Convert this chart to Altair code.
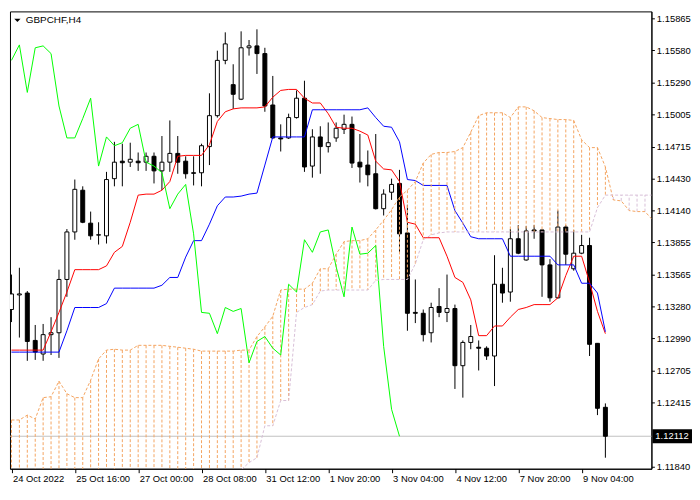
import altair as alt
import pandas as pd

symbol_title = "GBPCHF,H4"
tick_bars = [0, 8, 16, 24, 32, 40, 48, 56, 64, 72]
tick_labels = ["24 Oct 2022", "25 Oct 16:00", "27 Oct 00:00", "28 Oct 08:00", "31 Oct 12:00",
               "1 Nov 20:00", "3 Nov 04:00", "4 Nov 12:00", "7 Nov 20:00", "9 Nov 04:00"]
price_ticks = [1.15865, 1.15580, 1.15290, 1.15005, 1.14715, 1.14430, 1.14140, 1.13855,
               1.13565, 1.13280, 1.12990, 1.12705, 1.12415, 1.11840]
last_price = 1.12112

open_ = [1.13251, 1.13382, 1.13399, 1.12973, 1.12851, 1.13025, 1.13042, 1.13521, 1.13948, 1.14323,
         1.14027, 1.13922, 1.13913, 1.14427, 1.14584, 1.14575, 1.14584, 1.14575, 1.14628, 1.14497,
         1.14575, 1.14654, 1.14584, 1.14480, 1.14480, 1.14715, 1.14993, 1.15490, 1.15272, 1.15141,
         1.15603, 1.15620, 1.15551, 1.15089, 1.14793, 1.14793, 1.14976, 1.15150, 1.14540, 1.14802,
         1.14715, 1.14793, 1.14871, 1.14915, 1.14575, 1.14549, 1.14471, 1.14157, 1.14305, 1.14384,
         1.13939, 1.13225, 1.13217, 1.13042, 1.13278, 1.13225, 1.13260, 1.12746, 1.12955, 1.12912,
         1.12903, 1.12833, 1.13478, 1.13408, 1.13887, 1.13696, 1.13966, 1.13966, 1.13652, 1.13356,
         1.13992, 1.13617, 1.13757, 1.13826, 1.12947, 1.12372]
high_ = [1.13565, 1.13626, 1.13417, 1.13112, 1.13121, 1.13182, 1.13609, 1.13974, 1.14419, 1.14358,
         1.14131, 1.14035, 1.14488, 1.14758, 1.14741, 1.14750, 1.14662, 1.14662, 1.14662, 1.14810,
         1.14950, 1.14810, 1.14628, 1.14628, 1.14741, 1.15194, 1.15577, 1.15742, 1.15455, 1.15751,
         1.15673, 1.15769, 1.15603, 1.15350, 1.14915, 1.15011, 1.15220, 1.15307, 1.14871, 1.14898,
         1.14932, 1.14932, 1.15002, 1.14985, 1.14828, 1.14680, 1.14828, 1.14331, 1.14427, 1.14506,
         1.14192, 1.13521, 1.13251, 1.13312, 1.13443, 1.13565, 1.13295, 1.12973, 1.13112, 1.12973,
         1.12920, 1.13739, 1.13626, 1.13974, 1.14009, 1.14000, 1.14009, 1.13970, 1.13704, 1.14140,
         1.14009, 1.13966, 1.13922, 1.13896, 1.12950, 1.12407]
low_ = [1.13138, 1.12999, 1.12790, 1.12798, 1.12790, 1.12842, 1.12816, 1.13365, 1.13878, 1.14027,
        1.13878, 1.13835, 1.13844, 1.14358, 1.14358, 1.14532, 1.14497, 1.14497, 1.14384, 1.14323,
        1.14488, 1.14471, 1.14427, 1.14366, 1.14358, 1.14549, 1.14976, 1.15455, 1.15054, 1.15133,
        1.15533, 1.15368, 1.15028, 1.14784, 1.14671, 1.14784, 1.14967, 1.14488, 1.14436, 1.14471,
        1.14662, 1.14758, 1.14828, 1.14523, 1.14392, 1.14358, 1.14150, 1.14096, 1.14236, 1.13765,
        1.13060, 1.13129, 1.12964, 1.12955, 1.13182, 1.13138, 1.12537, 1.12459, 1.12894, 1.12703,
        1.12798, 1.12563, 1.13312, 1.13321, 1.13748, 1.13690, 1.13887, 1.13365, 1.13321, 1.13350,
        1.13652, 1.13600, 1.13748, 1.12833, 1.12302, 1.11919]
close_ = [1.13391, 1.13391, 1.12964, 1.12868, 1.13025, 1.13042, 1.13521, 1.13948, 1.14331, 1.14035,
          1.13913, 1.13920, 1.14419, 1.14575, 1.14570, 1.14601, 1.14570, 1.14628, 1.14497, 1.14575,
          1.14654, 1.14575, 1.14471, 1.14475, 1.14723, 1.14993, 1.15490, 1.15638, 1.15185, 1.15603,
          1.15620, 1.15551, 1.15080, 1.14793, 1.14784, 1.14976, 1.15150, 1.14532, 1.14802, 1.14715,
          1.14750, 1.14880, 1.14915, 1.14567, 1.14532, 1.14462, 1.14157, 1.14288, 1.14375, 1.13931,
          1.13217, 1.13217, 1.13025, 1.13269, 1.13225, 1.13260, 1.12746, 1.12955, 1.13008, 1.12903,
          1.12833, 1.13478, 1.13399, 1.13887, 1.13757, 1.13957, 1.13957, 1.13652, 1.13356, 1.13992,
          1.13748, 1.13757, 1.13826, 1.12938, 1.12363, 1.12112]

tenkan = [1.12886, 1.12886, 1.12886, 1.12886, 1.12886, 1.13051, 1.13225, 1.13408, 1.13609, 1.13609,
          1.13609, 1.13609, 1.13643, 1.13765, 1.13818, 1.14035, 1.14279, 1.14288, 1.14288, 1.14323,
          1.14401, 1.14628, 1.14636, 1.14636, 1.14636, 1.14732, 1.14941, 1.15028, 1.15054, 1.15063,
          1.15063, 1.15063, 1.15072, 1.15159, 1.15220, 1.15229, 1.15229, 1.15150, 1.15107, 1.15107,
          1.15011, 1.14889, 1.14880, 1.14880, 1.14854, 1.14819, 1.14584, 1.14514, 1.14506, 1.14401,
          1.14035, 1.14018, 1.13896, 1.13896, 1.13896, 1.13730, 1.13539, 1.13495, 1.13338, 1.13016,
          1.13016, 1.13103, 1.13103, 1.13182, 1.13251, 1.13269, 1.13295, 1.13295, 1.13295, 1.13356,
          1.13556, 1.13730, 1.13730, 1.13495, 1.13234, 1.13034]
kijun = [1.12868, 1.12868, 1.12868, 1.12868, 1.12868, 1.12868, 1.12868, 1.13060, 1.13269, 1.13269,
         1.13269, 1.13269, 1.13304, 1.13443, 1.13443, 1.13443, 1.13443, 1.13443, 1.13443, 1.13469,
         1.13539, 1.13539, 1.13722, 1.13870, 1.13870, 1.14018, 1.14183, 1.14262, 1.14262, 1.14270,
         1.14288, 1.14297, 1.14549, 1.14802, 1.14802, 1.14802, 1.14802, 1.14802, 1.15046, 1.15046,
         1.15046, 1.15046, 1.15046, 1.15046, 1.15046, 1.15063, 1.14976, 1.14898, 1.14889, 1.14758,
         1.14419, 1.14410, 1.14366, 1.14366, 1.14366, 1.14366, 1.14140, 1.14027, 1.13905, 1.13887,
         1.13887, 1.13887, 1.13887, 1.13730, 1.13730, 1.13730, 1.13730, 1.13730, 1.13730, 1.13652,
         1.13652, 1.13652, 1.13487, 1.13487, 1.13399, 1.13051]
chikou = [1.15490, 1.15629, 1.15202, 1.15603, 1.15620, 1.15551, 1.15080, 1.14793, 1.14793, 1.14967,
          1.15150, 1.14540, 1.14802, 1.14723, 1.14750, 1.14880, 1.14915, 1.14575, 1.14540, 1.14480,
          1.14157, 1.14288, 1.14375, 1.13931, 1.13225, 1.13217, 1.13034, 1.13269, 1.13234, 1.13260,
          1.12772, 1.12964, 1.13008, 1.12903, 1.12842, 1.13478, 1.13408, 1.13878, 1.13765, 1.13948,
          1.13966, 1.13635, 1.13365, 1.13992, 1.13748, 1.13757, 1.13826, 1.12920, 1.12354, 1.12112]
span_a = [1.12258, 1.12258, 1.12302, 1.12267, 1.12459, 1.12467, 1.12607, 1.12494, 1.12459, 1.12459,
          1.12616, 1.12807, 1.12886, 1.12894, 1.12886, 1.12886, 1.12929, 1.12929, 1.12929, 1.12929,
          1.12920, 1.12912, 1.12903, 1.12894, 1.12877, 1.12877, 1.12877, 1.12877, 1.12877, 1.12886,
          1.12886, 1.13008, 1.13095, 1.13190, 1.13426, 1.13434, 1.13434, 1.13434, 1.13487, 1.13617,
          1.13617, 1.13748, 1.13861, 1.13870, 1.13870, 1.13887, 1.13966, 1.14053, 1.14148, 1.14262,
          1.14323, 1.14401, 1.14567, 1.14645, 1.14662, 1.14662, 1.14671, 1.14706, 1.14845, 1.14993,
          1.15019, 1.15019, 1.15019, 1.14976, 1.15072, 1.15072, 1.15037, 1.14976, 1.14967, 1.14958,
          1.14958, 1.14950, 1.14776, 1.14706, 1.14706, 1.14532, 1.14236, 1.14227, 1.14140, 1.14131,
          1.14131, 1.14053]
span_b = [1.11640, 1.11640, 1.11640, 1.11640, 1.11640, 1.11640, 1.11640, 1.11640, 1.11640, 1.11640,
          1.11640, 1.11640, 1.11640, 1.11640, 1.11640, 1.11640, 1.11640, 1.11640, 1.11640, 1.11640,
          1.11640, 1.11700, 1.11700, 1.11700, 1.11700, 1.11700, 1.11700, 1.11700, 1.11780, 1.11810,
          1.11875, 1.11919, 1.12206, 1.12206, 1.12433, 1.12433, 1.13225, 1.13269, 1.13295, 1.13417,
          1.13426, 1.13426, 1.13426, 1.13426, 1.13426, 1.13426, 1.13513, 1.13521, 1.13521, 1.13521,
          1.13521, 1.13661, 1.13878, 1.13922, 1.13939, 1.13948, 1.13948, 1.13948, 1.13948, 1.13948,
          1.13948, 1.13948, 1.13948, 1.13948, 1.13948, 1.13948, 1.13948, 1.13948, 1.13948, 1.13948,
          1.13948, 1.13948, 1.13948, 1.13948, 1.14166, 1.14279, 1.14279, 1.14279, 1.14279, 1.14279,
          1.14279, 1.14279]

n = len(close_)
candles = pd.DataFrame({"bar": list(range(n)), "open": open_, "high": high_, "low": low_, "close": close_})
lines = pd.DataFrame({"bar": list(range(n)), "tenkan": tenkan, "kijun": kijun})
chik = pd.DataFrame({"bar": list(range(len(chikou))), "chikou": chikou})
cloud = pd.DataFrame({"bar": list(range(len(span_a))), "a": span_a, "b": span_b})

W, H = 648, 462
FONT = "Liberation Sans"
FS = 9.5

xs = alt.Scale(domain=[-0.1875, 80.8125], nice=False, zero=False, padding=0)
ys = alt.Scale(domain=[1.1182, 1.1593], nice=False, zero=False, padding=0)

label_expr = " : ".join(f"datum.value == {b} ? '{t}'" for b, t in zip(tick_bars, tick_labels)) + " : ''"
xaxis = alt.Axis(values=tick_bars, labelExpr=label_expr, title=None, grid=False, tickSize=4,
                 labelAlign="left", labelOffset=1, labelPadding=1, labelFont=FONT, labelFontSize=FS,
                 labelColor="black", tickColor="black", domainColor="black", labelOverlap=False,
                 labelFlush=False, labelBaseline="top")
yaxis = alt.Axis(orient="right", values=price_ticks, format=".5f", title=None, grid=False, tickSize=3,
                 labelPadding=2, labelFont=FONT, labelFontSize=FS, labelColor="black",
                 tickColor="black", domainColor="black", labelOverlap=False, labelFlush=False)


def X(field):
    return alt.X(field, type="quantitative", scale=xs, axis=xaxis)


def Y(field):
    return alt.Y(field, type="quantitative", scale=ys, axis=yaxis)


price_df = pd.DataFrame({"p": [last_price]})
price_line = alt.Chart(price_df).mark_rule(color="#C0C0C0", strokeWidth=1).encode(y=Y("p"))

wicks = alt.Chart(candles).mark_rule(color="black", strokeWidth=1, clip=True).encode(
    x=X("bar"), y=Y("low"), y2="high")
bodies = alt.Chart(candles).mark_bar(size=4, stroke="black", strokeWidth=1, clip=True).encode(
    x=X("bar"), y=Y("open"), y2="close",
    fill=alt.condition("datum.close >= datum.open", alt.value("white"), alt.value("black")))

tenkan_l = alt.Chart(lines).mark_line(color="#FF0000", strokeWidth=1, clip=True).encode(
    x=X("bar"), y=Y("tenkan"))
kijun_l = alt.Chart(lines).mark_line(color="#0000FF", strokeWidth=1, clip=True).encode(
    x=X("bar"), y=Y("kijun"))

hatch = alt.Chart(cloud).mark_rule(strokeWidth=1, strokeDash=[3, 2], clip=True).encode(
    x=X("bar"), y=Y("a"), y2="b",
    color=alt.condition("datum.a >= datum.b", alt.value("#F4A460"), alt.value("#D8BFD8")))

chikou_l = alt.Chart(chik).mark_line(color="#00FF00", strokeWidth=1, clip=True).encode(
    x=X("bar"), y=Y("chikou"))
span_a_l = alt.Chart(cloud).mark_line(color="#F4A460", strokeWidth=1, strokeDash=[3, 2], clip=True).encode(
    x=X("bar"), y=Y("a"))
span_b_l = alt.Chart(cloud).mark_line(color="#D8BFD8", strokeWidth=1, strokeDash=[3, 2], clip=True).encode(
    x=X("bar"), y=Y("b"))

title_df = pd.DataFrame({"t": [symbol_title]})
tri = alt.Chart(title_df).mark_point(shape="M-1,-0.5L1,-0.5L0,0.5Z", size=40, filled=True,
                                     color="black", opacity=1).encode(
    x=alt.value(7.5), y=alt.value(9))
title_txt = alt.Chart(title_df).mark_text(align="left", baseline="middle", font=FONT, fontSize=FS + 0.5,
                                          color="black").encode(
    x=alt.value(16), y=alt.value(9), text="t:N")

price_box = alt.Chart(price_df).mark_point(shape="M-1,-0.35L1,-0.35L1,0.35L-1,0.35Z", size=1600,
                                           filled=True, color="black", opacity=1, clip=False).encode(
    x=alt.value(W + 21), y=Y("p"))
price_txt = alt.Chart(price_df).mark_text(align="left", baseline="middle", font=FONT, fontSize=FS,
                                          color="white", clip=False).encode(
    x=alt.value(W + 4), y=Y("p"), text=alt.Text("p:Q", format=".5f"))

chart = alt.layer(
    price_line, wicks, bodies, tenkan_l, kijun_l, hatch, chikou_l, span_a_l, span_b_l,
    tri, title_txt, price_box, price_txt
).properties(
    width=W, height=H, padding={"left": 1, "top": 1, "right": 0, "bottom": 0}, background="white"
).configure_view(stroke="black", strokeWidth=1)

chart.save("out.html", embed_options={"renderer": "svg", "actions": False})
